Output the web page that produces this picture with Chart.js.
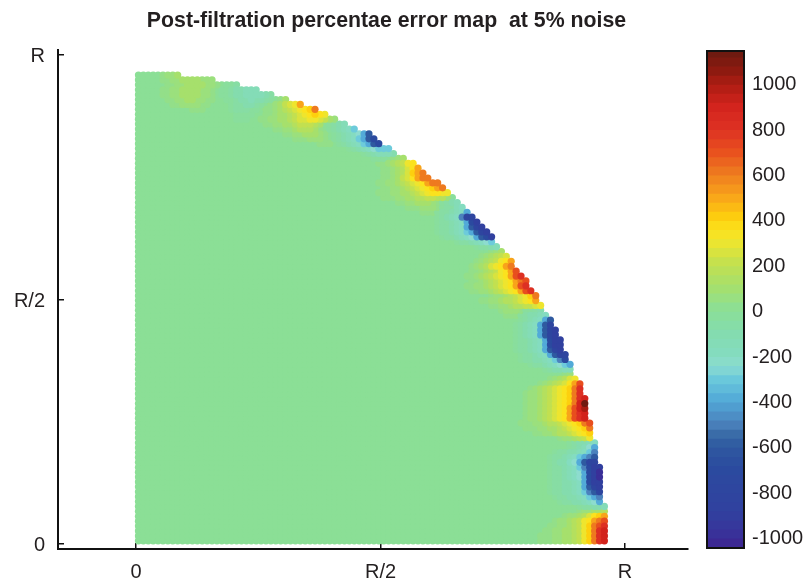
<!DOCTYPE html>
<html>
<head>
<meta charset="utf-8">
<title>Post-filtration percentae error map</title>
<script src="https://cdn.jsdelivr.net/npm/chart.js@4"></script>
<style>
  html, body { margin: 0; background: #fff; }
  canvas { position: absolute; top: 0; }
  #map-chart { left: 0; }
  #bar-chart { left: 690px; }
</style>
</head>
<body>
<canvas id="map-chart" width="773" height="582"></canvas>
<canvas id="bar-chart" width="118" height="582"></canvas>
<script>
const titleText = 'Post-filtration percentae error map  at 5% noise';

// axis ticks, in units of R
const tickValues = [0, 0.5, 1];
const tickLabels = ['0', 'R/2', 'R'];

// colour bar
const barTicks = [-1000, -800, -600, -400, -200, 0, 200, 400, 600, 800, 1000];
const barMin = -1050;
const barMax = 1140;
const barLevels = [
  -1050, -1010, -970, -930, -890, -850, -810, -770, -730, -690, -650, -610, -570, -530,
  -490, -450, -410, -370, -330, -290, -250, -210, -170, -130, -90, -50, -10, 30, 70,
  110, 150, 190, 230, 270, 310, 350, 390, 430, 470, 510, 550, 590, 630, 670, 710, 750,
  790, 830, 870, 910, 950, 990, 1030, 1070, 1110
];

// measurement grid: spacing in R, cells per row from the bottom row up
const gridStep = 0.01003;
const rowLengths = [
  96, 96, 96, 96, 96, 96, 96, 96, 95, 95, 95, 95, 95, 95, 95, 95,
  94, 94, 94, 94, 94, 93, 93, 93, 93, 92, 92, 92, 92, 92, 91, 91,
  91, 90, 89, 89, 89, 88, 88, 87, 87, 87, 86, 86, 85, 85, 84, 83,
  83, 82, 82, 81, 80, 80, 79, 78, 77, 77, 76, 75, 74, 73, 73, 72,
  71, 70, 69, 68, 67, 66, 65, 64, 63, 62, 60, 59, 58, 57, 55, 53,
  52, 50, 49, 48, 45, 43, 41, 39, 37, 34, 31, 28, 25, 21, 16, 9
];

// error level keys; anything not listed in edgeLevels is background ('.')
const levelKeys = ['.', 'l', 'm', 'n', 'o', 'p', 'q', 'r', 's', 't', 'u', 'v', 'w', 'x', 'y', 'z', 'Z',
  'k', 'j', 'i', 'h', 'g', 'f', 'e', 'd', 'c', 'b', 'a', 'A', 'B', 'C'];
const levelValues = [0, 30, 60, 100, 150, 200, 250, 300, 350, 400, 500, 600, 700, 800, 900, 1000, 1130,
  -30, -60, -100, -150, -200, -250, -300, -400, -500, -600, -700, -800, -900, -1000];

const edgeLevels = [
  'lllmmnnoprtvxy', 'lllmmnnoprtvxy', 'llmmnnoprtvxy', 'llmmnoprtvwx',
  'lmmnoprsuvw', 'lmmnoqstu', 'lmmnno', 'kjjiih',
  'kjjiihgfd', 'kjjiihgedc', 'kjjiihgecbA', 'kjjiihgdbAB',
  'kjjiihgdaBB', 'kjjihgfdaBC', 'kjjihgfdaBC', 'kjjihgecaBB',
  'kjiigfdbAA', 'kjjihgedcb', 'kjjiihgec', 'kjihfd',
  'kjiihg', 'lmmnopr', 'llmmnoopqrst', 'lllmmnnopqrstv',
  'lllmmnoopqrstvw', 'lmmnopqrsuwxy', 'lmmnopqrsuwxy', 'lmmnopqrsuwyz',
  'lmmnopqrstvyZ', 'lmmnopqrstvxy', 'lmmnopqrstvx', 'lmnopqrstvx',
  'lmnopqsuw', 'lmnoqr', 'lm', 'kjiihh',
  'kjjihgfed', 'kjjiihgeca', 'kjjihgdbAA', 'kjjihgdbAB',
  'kjjihgdaBB', 'kjjihgdaBB', 'kjihgdbAB', 'kjihgdbAB',
  'kjihgdbA', 'kjihgdb', 'lllkjiihg', 'lmmmlkkji',
  'llmmnooppqr', 'llmmnoopqrsu', 'lmmnopqrtv', 'llmmnopqrsuwx',
  'llmmnopqrsuwx', 'llmnopqrsuvw', 'llmnopqrsuwx', 'llmnoprsuw',
  'lmnoqrsuv', 'lmnoprsu', 'lmnopq', 'lmn',
  'kjjih', 'kjjihgfe', 'kjjihgfdbaB', 'kjjihgedbAB',
  'kjjihgdbAB', 'kjjihgdaB', 'kjihgcAA', 'lllkjjihgd',
  'lllmmmlkjjhg', 'llmmnnnmlkjih', 'lllmmnnooppoomk', 'lllmmnnopqrssrr',
  'llmmnopqrstuv', 'llmmnopqrsuvv', 'llmnpqsuvv', 'llmnoqtuv',
  'llmnoqsu', 'llmnoprs', 'kkk.lmn', 'kjihhhi',
  'kjihgfeee', 'lll.kjihgedba', 'lllmmml.kjihgedba', 'llmmnnnml.kjihgfdb',
  'llmmnooonl.kjihge', 'llmmnnopppon.kjih', 'kkk..llmmnnopqqrrqpnm', 'kkkk..llmnnopqrstsr',
  'lll.....kjjjkk.llmnopqrstv', 'llmmmmll....kjjiijk.lmnpqru', 'llmmnnmmll..kkjiihiijk.ln', 'llmmnnnnmml.kkjiihhhhij',
  'llmmnnnnmml.kkjiihhh', 'llmmnnnnmml.kkj', 'llmmnnnnmmm', 'lmmn'
];

// colours sampled off the colour bar
const stopValues = [-1050, -1000, -900, -800, -700, -600, -550, -500, -400, -300, -250, -200, -100, 0,
  100, 200, 300, 350, 400, 500, 600, 700, 800, 900, 1000, 1050, 1140];
const stopColors = [
  [62, 36, 144], [58, 47, 152], [49, 64, 159], [46, 69, 159], [43, 74, 159], [47, 90, 160], [58, 108, 168],
  [75, 130, 189], [82, 170, 216], [109, 203, 219], [141, 220, 207], [132, 220, 192], [132, 220, 174], [139, 223, 150],
  [166, 224, 108], [194, 224, 80], [238, 229, 46], [251, 226, 30], [253, 208, 14], [248, 164, 26], [238, 122, 31],
  [232, 78, 30], [221, 48, 35], [210, 35, 28], [168, 28, 18], [142, 26, 16], [107, 26, 16]
];

function colorFor(value) {
  let i = 0;
  while (i < stopValues.length - 2 && value > stopValues[i + 1]) i++;
  const t = Math.min(1, Math.max(0, (value - stopValues[i]) / (stopValues[i + 1] - stopValues[i])));
  const rgb = stopColors[i].map((c, k) => Math.round(c + (stopColors[i + 1][k] - c) * t));
  return `rgb(${rgb.join(',')})`;
}

function buildCells() {
  const cells = [];
  rowLengths.forEach((len, r) => {
    const levels = edgeLevels[r];
    for (let c = 0; c < len; c++) {
      const key = levels[c - (len - levels.length)] || '.';
      cells.push({
        x: (c + 0.5) * gridStep,
        y: (r + 0.6) * gridStep,
        v: levelValues[levelKeys.indexOf(key)],
      });
    }
  });
  // strongest errors go on top, as in the source plot
  return cells.sort((a, b) => Math.abs(a.v) - Math.abs(b.v));
}

const textColor = '#231f20';
const axisFont = { family: '"Liberation Sans", Arial, sans-serif', size: 20 };
const cells = buildCells();

new Chart(document.getElementById('map-chart'), {
  type: 'scatter',
  data: {
    datasets: [{
      data: cells,
      pointRadius: 3.6,
      pointBorderWidth: 0,
      pointBackgroundColor: cells.map(p => colorFor(p.v)),
    }],
  },
  options: {
    responsive: false,
    animation: false,
    events: [],
    plugins: {
      legend: { display: false },
      tooltip: { enabled: false },
      title: {
        display: true,
        text: titleText,
        color: textColor,
        font: { family: '"Liberation Sans", Arial, sans-serif', size: 21.3, weight: 'bold' },
        padding: { top: 8, bottom: 16.4 },
      },
    },
    scales: {
      x: {
        type: 'linear',
        min: -0.1595,
        max: 1.1288,
        afterBuildTicks: axis => { axis.ticks = tickValues.map(value => ({ value })); },
        afterFit: axis => { axis.height = 33; },
        ticks: {
          autoSkip: false,
          maxRotation: 0,
          color: textColor,
          font: axisFont,
          padding: 17,
          callback: v => tickLabels[tickValues.indexOf(v)],
        },
        grid: { drawOnChartArea: false, tickLength: -6, color: '#111', lineWidth: 1.5 },
        border: { color: '#111', width: 2 },
      },
      y: {
        type: 'linear',
        min: -0.0108,
        max: 1.0102,
        afterBuildTicks: axis => { axis.ticks = tickValues.map(value => ({ value })); },
        afterFit: axis => { axis.width = 58; },
        ticks: {
          autoSkip: false,
          color: textColor,
          font: axisFont,
          padding: 19,
          labelOffset: 2,
          callback: v => tickLabels[tickValues.indexOf(v)],
        },
        grid: { drawOnChartArea: false, tickLength: -6, color: '#111', lineWidth: 1.5 },
        border: { color: '#111', width: 2 },
      },
      // empty right-hand axis keeps the title centred over the whole figure
      spacer: {
        type: 'linear',
        position: 'right',
        afterFit: axis => { axis.width = 85; },
        ticks: { display: false },
        grid: { display: false },
        border: { display: false },
      },
    },
  },
});

const barFrame = {
  id: 'barFrame',
  afterDraw(chart) {
    const { ctx, chartArea: a } = chart;
    ctx.save();
    ctx.strokeStyle = '#111';
    ctx.lineWidth = 2;
    ctx.strokeRect(a.left, a.top, a.right - a.left, a.bottom - a.top);
    ctx.restore();
  },
};

new Chart(document.getElementById('bar-chart'), {
  type: 'bar',
  data: {
    labels: ['error'],
    // every band starts at the bottom; Chart.js paints the first dataset last, so no seams show
    datasets: barLevels.map((lo, i) => ({
      data: [[barMin, i + 1 < barLevels.length ? barLevels[i + 1] : barMax]],
      backgroundColor: colorFor(lo + 20),
      barPercentage: 1,
      categoryPercentage: 1,
      borderWidth: 0,
    })),
  },
  options: {
    responsive: false,
    animation: false,
    events: [],
    layout: { padding: { left: 17, top: 51, bottom: 34 } },
    plugins: { legend: { display: false }, tooltip: { enabled: false } },
    scales: {
      x: { display: false, stacked: true },
      y: {
        position: 'right',
        min: barMin,
        max: barMax,
        afterBuildTicks: axis => { axis.ticks = barTicks.map(value => ({ value })); },
        afterFit: axis => { axis.width = 64; },
        ticks: { autoSkip: false, color: textColor, font: axisFont, padding: 14, labelOffset: 2, callback: v => String(v) },
        grid: { drawOnChartArea: false, tickLength: -6, color: '#111', lineWidth: 1.5 },
        border: { display: false },
      },
    },
  },
  plugins: [barFrame],
});
</script>
</body>
</html>
